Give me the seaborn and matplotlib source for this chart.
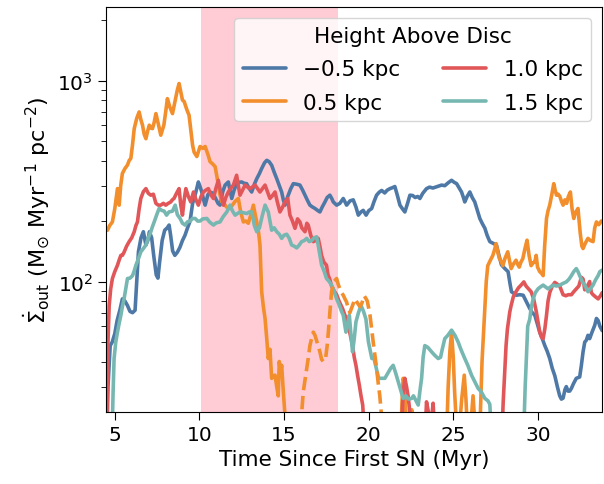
import numpy as np
import pandas as pd
import matplotlib
matplotlib.use("Agg")
import matplotlib.pyplot as plt
import seaborn as sns

# Outflow surface density rate at four heights above the disc.
# Values below the lower y limit sit off-axis (flux drops out of range).
t_m05 = [4.5, 4.6, 4.73, 4.85, 5.0, 5.14, 5.3, 5.45, 5.6, 5.75, 5.9, 6.05, 6.2, 6.3, 6.4, 6.55, 6.69, 6.84, 6.95, 7.05,
         7.18, 7.3, 7.45, 7.55, 7.65, 7.8, 7.95, 8.1, 8.21, 8.3, 8.42, 8.55, 8.7, 8.85, 9.0, 9.15, 9.3, 9.45, 9.6, 9.75,
         9.94, 10.05, 10.14, 10.25, 10.34, 10.5, 10.63, 10.8, 10.95, 11.1, 11.22, 11.38, 11.52, 11.71, 11.85, 11.91, 12.05,
         12.2, 12.35, 12.5, 12.65, 12.79, 12.95, 13.09, 13.25, 13.39, 13.55, 13.68, 13.85, 13.98, 14.12, 14.27, 14.42, 14.57,
         14.72, 14.86, 14.96, 15.06, 15.15, 15.25, 15.4, 15.55, 15.75, 15.94, 16.1, 16.24, 16.4, 16.53, 16.68, 16.83, 16.98,
         17.12, 17.27, 17.42, 17.55, 17.71, 17.82, 17.91, 18.11, 18.3, 18.5, 18.7, 18.9, 19.09, 19.25, 19.39, 19.55, 19.68,
         19.85, 20.0, 20.18, 20.32, 20.47, 20.62, 20.77, 20.95, 21.1, 21.26, 21.4, 21.55, 21.7, 21.85, 22.0, 22.14, 22.3,
         22.44, 22.6, 22.75, 22.9, 23.03, 23.2, 23.42, 23.6, 23.8, 24.0, 24.15, 24.31, 24.5, 24.7, 24.9, 25.05, 25.2, 25.35,
         25.49, 25.6, 25.68, 25.82, 25.98, 26.12, 26.27, 26.42, 26.57, 26.72, 26.87, 27.0, 27.16, 27.35, 27.55, 27.7, 27.85,
         28.05, 28.24, 28.35, 28.44, 28.6, 28.73, 28.93, 29.13, 29.3, 29.52, 29.67, 29.82, 29.96, 30.11, 30.26, 30.41, 30.55,
         30.7, 30.85, 31.0, 31.15, 31.29, 31.39, 31.49, 31.6, 31.68, 31.78, 31.88, 31.98, 32.1, 32.27, 32.47, 32.57, 32.67,
         32.77, 32.86, 32.96, 33.06, 33.2, 33.36, 33.46, 33.56, 33.66, 33.8]
f_m05 = [12, 30, 48, 50, 55, 64, 72, 82, 80, 76, 71, 70, 72, 100, 141, 165, 177, 152, 160, 177,
         165, 135, 108, 104, 125, 160, 180, 185, 191, 170, 142, 135, 140, 148, 160, 170, 185, 200, 245, 270,
         313, 295, 279, 255, 240, 270, 279, 275, 260, 245, 240, 280, 302, 313, 275, 259, 285,
         307, 312, 313, 308, 307, 290, 279, 305, 325, 345, 365, 390, 401, 395, 379, 350, 325,
         300, 279, 255, 240, 255, 269, 290, 307, 305, 302, 285, 269, 252, 240, 235, 231, 226,
         222, 236, 249, 262, 269, 259, 249, 240, 245, 259, 240, 252, 255, 235, 214, 222, 226,
         214, 225, 231, 250, 269, 278, 284, 276, 285, 290, 293, 297, 268, 240, 230, 222, 245,
         269, 268, 262, 265, 259, 275, 290, 295, 292, 296, 299, 302, 300, 310, 319, 312, 307, 292,
         279, 262, 249, 265, 279, 262, 249, 226, 206, 194, 184, 170, 158, 155, 152, 135, 121,
         116, 112, 98, 89, 87, 85.5, 86, 85.5, 80, 73.4, 70, 68, 62, 56, 52, 48, 45,
         41.4, 37, 34, 30, 27, 26, 26.3, 29, 30, 28.5, 28.5, 29.4, 31, 33, 33.5, 38.3, 44.7,
         50, 51, 54, 52, 56, 60.6, 65.5, 64, 60, 57]

t_p05 = [4.5, 4.57, 4.7, 4.86, 5.0, 5.1, 5.16, 5.26, 5.35, 5.45, 5.6, 5.75, 5.85, 5.95, 6.05, 6.15, 6.3, 6.44, 6.54, 6.64,
         6.74, 6.84, 6.94, 7.04, 7.13, 7.23, 7.33, 7.43, 7.55, 7.72, 7.9, 8.01, 8.11, 8.25, 8.41, 8.55, 8.7, 8.8, 8.9, 9.0,
         9.1, 9.25, 9.39, 9.5, 9.6, 9.69, 9.85, 10.04, 10.2, 10.34, 10.5, 10.63, 10.78, 10.93, 11.03, 11.12, 11.22, 11.32,
         11.45, 11.6, 11.81, 11.95, 12.1, 12.3, 12.45, 12.6, 12.75, 12.89, 13.04, 13.19, 13.3, 13.39, 13.5, 13.58, 13.68,
         13.78, 13.88, 13.98, 14.07, 14.17, 14.27, 14.37, 14.47, 14.57, 14.66, 14.72, 14.8, 14.86, 14.96, 15.05, 15.15,
         21.85, 21.97, 22.04, 22.12, 22.2, 22.3, 22.45, 22.55, 22.65, 24.55, 24.7, 24.8, 24.9, 25.0, 25.08, 25.15, 25.2,
         25.35, 25.5, 25.65, 25.75, 25.88, 26.05, 26.17, 26.27, 26.4, 26.57, 26.7, 26.85, 26.95, 27.04, 27.2, 27.34, 27.45,
         27.53, 27.63, 27.73, 27.83, 27.93, 28.05, 28.22, 28.32, 28.42, 28.55, 28.71, 28.8, 28.9, 29.0, 29.11, 29.23, 29.36,
         29.48, 29.6, 29.72, 29.82, 29.9, 29.98, 30.11, 30.21, 30.31, 30.4, 30.51, 30.6, 30.7, 30.82, 30.94, 31.02, 31.1,
         31.2, 31.3, 31.4, 31.49, 31.6, 31.7, 31.8, 31.92, 32.02, 32.12, 32.22, 32.37, 32.5, 32.6, 32.67, 32.8, 32.96, 33.1,
         33.26, 33.36, 33.46, 33.6, 33.75, 33.85]
f_p05 = [180, 180, 190, 198, 230, 265, 290, 240, 300, 345, 365, 380, 400, 410, 480, 577, 650, 698, 640, 600,
         540, 514, 560, 600, 580, 577, 620, 685, 620, 535, 600, 700, 813, 740, 685, 780, 900, 967, 880, 800,
         787, 720, 672, 560, 476, 440, 419, 470, 460, 470, 430, 395, 385, 373, 335, 301, 270, 250,
         245, 235, 231, 240, 250, 259, 220, 198, 200, 195, 215, 240, 215, 198, 175, 152, 89,
         75, 65.5, 52, 41.4, 46, 33, 34, 34.2, 30, 27, 40, 35, 38.3, 28.3, 22, 12,
         12, 25, 33, 31, 22, 12, 18, 23, 12, 12, 30, 45, 56, 42, 28.4, 22, 15,
         18, 26, 34.2, 26, 15, 20, 27, 20, 12, 18, 40, 70, 100, 120, 128, 135, 145,
         154.5, 140, 130, 126, 120, 130, 140.6, 128, 116, 122, 127.7, 122, 118, 125, 130, 145, 160.6,
         135, 120, 124, 125, 135, 118, 112, 110, 107, 150, 206, 225, 240, 270, 307, 285, 269,
         272, 265, 250, 240, 255, 245, 265, 279, 230, 206, 220, 231, 175, 150, 146, 155, 164, 160,
         158, 185, 198, 192, 200, 200]

# 0.5 kpc interval where the flux changes sign (plotted as magnitude, dashed)
t_p05_neg = [15.9, 16.04, 16.14, 16.3, 16.43, 16.53, 16.63, 16.73, 16.83, 16.95, 17.12, 17.22, 17.32, 17.45, 17.55,
             17.62, 17.72, 17.81, 17.95, 18.11, 18.2, 18.3, 18.4, 18.5, 18.6, 18.7, 18.8, 18.89, 19.05, 19.19, 19.35,
             19.49, 19.6, 19.74, 19.85, 19.92, 20.0, 20.08, 20.18, 20.27, 20.37, 20.47, 20.57, 20.66, 20.75, 20.85]
f_p05_neg = [12, 22, 28.3, 35, 41.4, 48, 52, 56, 54, 50, 44.7, 41, 40, 41, 48,
             56, 72, 89, 100, 103.5, 97, 92, 88, 85.5, 82, 79, 73, 70, 76, 82, 78,
             75, 78, 85, 82, 80, 74, 68, 58, 50, 43, 37, 31, 27, 22, 12]

t_p10 = [4.5, 4.6, 4.67, 4.76, 4.86, 5.0, 5.16, 5.26, 5.36, 5.45, 5.55, 5.7, 5.85, 6.0, 6.15, 6.25, 6.34, 6.44, 6.54, 6.69,
         6.84, 6.98, 7.13, 7.28, 7.43, 7.57, 7.72, 7.87, 8.01, 8.16, 8.31, 8.4, 8.5, 8.65, 8.8, 8.9, 9.0, 9.1, 9.2, 9.35,
         9.49, 9.65, 9.8, 9.94, 10.1, 10.24, 10.38, 10.53, 10.68, 10.83, 10.97, 11.12, 11.27, 11.42, 11.56, 11.71, 11.86,
         12.01, 12.2, 12.3, 12.4, 12.55, 12.7, 12.85, 12.99, 13.14, 13.29, 13.44, 13.58, 13.73, 13.88, 14.02, 14.17, 14.32,
         14.47, 14.6, 14.76, 14.92, 15.06, 15.22, 15.35, 15.5, 15.65, 15.8, 15.94, 16.05, 16.24, 16.35, 16.43, 16.58, 16.73,
         16.88, 17.02, 17.12, 17.22, 17.35, 17.51, 17.6, 17.7, 17.81, 17.95, 18.11, 18.25, 18.46, 18.6, 18.76, 18.9, 19.05,
         19.15, 19.25, 19.35, 19.45, 19.55, 19.65, 19.8, 21.9, 22.04, 22.14, 22.24, 22.33, 22.45, 22.6, 23.3, 23.42, 23.55,
         23.7, 23.81, 23.95, 27.8, 27.95, 28.05, 28.12, 28.2, 28.34, 28.42, 28.55, 28.71, 28.85, 29.01, 29.17, 29.3, 29.45,
         29.6, 29.75, 29.91, 30.02, 30.11, 30.21, 30.31, 30.41, 30.51, 30.6, 30.7, 30.85, 31.0, 31.15, 31.29, 31.49, 31.65,
         31.8, 31.98, 32.12, 32.27, 32.42, 32.57, 32.67, 32.77, 32.9, 33.06, 33.16, 33.26, 33.4, 33.56, 33.7, 33.8]
f_p10 = [12, 50, 76, 92, 103.5, 112, 120.6, 128, 135, 135, 140, 150, 158, 165, 177, 190, 198, 230, 259, 280,
         290, 275, 269, 272, 245, 240, 240, 245, 240, 245, 249, 255, 259, 275, 290, 240, 214, 255, 290, 265,
         249, 279, 255, 240, 265, 279, 285, 290, 270, 259, 290, 319, 275, 240, 262, 279, 292,
         302, 338, 300, 269, 285, 302, 295, 290, 296, 302, 290, 279, 290, 302, 280, 259, 268,
         279, 250, 222, 235, 249, 259, 214, 200, 184, 205, 198, 185, 177, 195, 191, 170, 158,
         160, 164, 150, 135, 125, 120.6, 108, 103, 95, 90, 86, 80, 73.4, 68, 63, 55, 48,
         42, 38.3, 34, 30.5, 27, 24.3, 15, 15, 28, 33, 30, 27, 22, 15, 15, 25.2, 22,
         20, 24.8, 15, 12, 25, 37, 48, 58, 70.6, 76, 84, 89, 93, 96, 99.6, 95, 92,
         89, 82, 70.6, 62, 56, 53, 52, 58, 68, 80, 88, 95, 99, 97, 95, 86, 85,
         86, 86, 89, 92, 95, 105, 103, 91, 94, 100, 88, 86, 84, 82, 85, 88]

t_p15 = [4.8, 4.9, 4.96, 5.06, 5.16, 5.26, 5.36, 5.45, 5.55, 5.65, 5.75, 5.9, 6.05, 6.15, 6.25, 6.4, 6.54, 6.69, 6.84, 6.98,
         7.13, 7.23, 7.33, 7.48, 7.62, 7.77, 7.92, 8.06, 8.2, 8.41, 8.57, 8.7, 8.86, 9.0, 9.16, 9.29, 9.45, 9.6, 9.75, 9.9,
         10.04, 10.2, 10.44, 10.6, 10.83, 11.0, 11.22, 11.4, 11.62, 11.81, 11.95, 12.11, 12.25, 12.4, 12.6, 12.8, 12.95,
         13.09, 13.25, 13.39, 13.55, 13.7, 13.88, 14.07, 14.17, 14.27, 14.42, 14.57, 14.72, 14.86, 15.0, 15.16, 15.31, 15.45,
         15.6, 15.75, 15.9, 16.04, 16.2, 16.34, 16.49, 16.63, 16.78, 16.93, 17.03, 17.12, 17.22, 17.38, 17.51, 17.67, 17.81,
         17.95, 18.11, 18.25, 18.4, 18.5, 18.66, 18.76, 18.86, 18.95, 19.05, 19.15, 19.25, 19.4, 19.55, 19.7, 19.84, 19.99,
         20.1, 20.19, 20.3, 20.45, 20.59, 20.75, 20.96, 21.18, 21.3, 21.45, 21.6, 21.75, 21.87, 22.04, 22.2, 22.35, 22.54,
         22.65, 22.8, 22.93, 23.05, 23.13, 23.22, 23.32, 23.5, 23.72, 23.9, 24.11, 24.25, 24.35, 24.5, 24.68, 24.9, 25.1,
         25.29, 25.45, 25.68, 25.86, 26.08, 26.25, 26.47, 26.65, 26.87, 27.05, 27.16, 27.3, 29.1, 29.25, 29.4, 29.52, 29.6,
         29.72, 29.85, 30.01, 30.15, 30.31, 30.45, 30.6, 30.75, 30.9, 31.1, 31.29, 31.5, 31.68, 31.85, 31.98, 32.12, 32.27,
         32.37, 32.47, 32.62, 32.77, 32.96, 33.1, 33.26, 33.41, 33.56, 33.66, 33.8]
f_p15 = [12, 28, 41.4, 50, 56, 62, 68, 75, 82, 92, 103.5, 104, 107, 113, 120.6, 130, 140.6, 146, 152, 165,
         177, 188, 198, 215, 231, 226, 224, 214, 222, 224, 240, 215, 206, 195, 191, 198, 200, 206, 206, 200,
         200, 205, 206, 198, 191, 196, 198, 210, 222, 240, 225, 214, 218, 222, 220, 218, 222,
         222, 190, 177, 185, 210, 240, 222, 200, 180, 185, 177, 172, 164, 170, 172, 164, 152,
         150, 147, 152, 158, 160, 164, 158, 160, 165, 167, 150, 135, 121, 112, 103.5, 100, 96,
         90, 82, 77, 71, 68, 56, 62, 68, 55, 44.7, 52, 63, 70, 76, 71, 65, 50,
         45, 41.4, 42, 37, 33, 33, 33, 35.5, 37, 38.3, 35, 31.7, 29.4, 26.2, 27, 26, 26.2,
         27, 25.5, 24.3, 29.4, 33, 42, 48, 47, 44.7, 43, 41.4, 42, 46, 52, 54, 57.3, 54,
         50, 46, 41.4, 38.3, 34.2, 32, 29.4, 28.3, 26.2, 25.5, 24.5, 15, 12, 30, 60, 65, 73.4,
         82, 88, 92, 94, 96, 94, 92, 94, 96, 95, 96, 98, 99.6, 103, 107, 112, 116,
         112, 107, 100, 96, 89, 92, 96, 102, 107, 112, 114]

heights = ["\u22120.5 kpc", "0.5 kpc", "1.0 kpc", "1.5 kpc"]
colors = ["#4e79a7", "#f28e2b", "#e15759", "#76b7b2"]
burst_window = (10.1, 18.2)

df = pd.concat([
    pd.DataFrame({"t": t_m05, "flux": f_m05, "height": heights[0]}),
    pd.DataFrame({"t": t_p05, "flux": f_p05, "height": heights[1]}),
    pd.DataFrame({"t": t_p10, "flux": f_p10, "height": heights[2]}),
    pd.DataFrame({"t": t_p15, "flux": f_p15, "height": heights[3]}),
], ignore_index=True)
df_neg = pd.DataFrame({"t": t_p05_neg, "flux": f_p05_neg})

sns.set_style("ticks", {"axes.edgecolor": "black", "text.color": "black",
                        "axes.labelcolor": "black", "xtick.color": "black",
                        "ytick.color": "black"})
plt.rcParams["font.family"] = ["DejaVu Sans"]
plt.rcParams["mathtext.fontset"] = "dejavusans"

fig, ax = plt.subplots(figsize=(6.04, 4.85), dpi=100)
fig.subplots_adjust(left=0.176, right=0.997, top=0.984, bottom=0.149)

ax.axvspan(*burst_window, color="pink", alpha=0.8, lw=0, zorder=0)

sns.lineplot(data=df, x="t", y="flux", hue="height", hue_order=heights,
             palette=colors, estimator=None, sort=False, lw=2.6, ax=ax)
sns.lineplot(data=df_neg, x="t", y="flux", color=colors[1], estimator=None,
             sort=False, lw=2.6, linestyle="--", ax=ax, legend=False)

ax.set_yscale("log")
ax.set_xlim(4.5, 33.8)
ax.set_ylim(22.5, 2330)
ax.set_xlabel("Time Since First SN (Myr)", fontsize=15.5)
ax.set_ylabel(r"$\dot{\Sigma}_{\rm out}$ (M$_{\odot}$ Myr$^{-1}$ pc$^{-2}$)", fontsize=16)
ax.tick_params(axis="both", which="major", labelsize=14.5, length=6)
ax.tick_params(axis="y", which="minor", length=3.5)

sns.move_legend(ax, "upper right", ncol=2, title="Height Above Disc",
                fontsize=15.5, title_fontsize=15.5, frameon=True,
                columnspacing=2.0, borderaxespad=0.5, labelspacing=0.62)

fig.savefig("out.png", dpi=100)
